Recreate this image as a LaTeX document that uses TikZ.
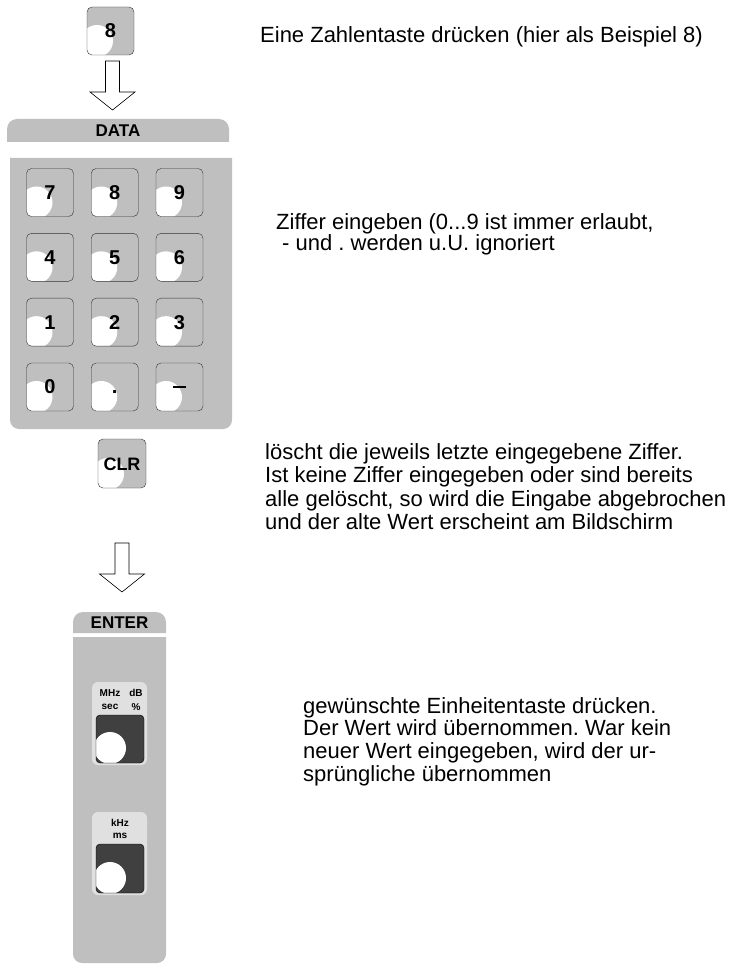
\documentclass[tikz,border=0pt]{standalone}
\usepackage{fontspec}
\setmainfont{Liberation Sans}
\frenchspacing
\usetikzlibrary{calc}
\definecolor{panelgray}{gray}{0.75}
\definecolor{keydark}{gray}{0.25}
\definecolor{keylight}{gray}{0.88}
\tikzset{
	numkey/.style={draw=black!80, fill=panelgray, rounded corners=5pt, minimum width=47pt, minimum height=48pt, inner sep=0pt, text height=14pt, text depth=0pt, font=\bfseries\fontsize{20}{20}\selectfont,
		path picture={\fill[white] ($(path picture bounding box.south west)+(10pt,14pt)$) circle (16pt);}},
	unitkey/.style={draw=black, fill=keydark, rounded corners=4pt, minimum width=48pt, minimum height=48pt, inner sep=0pt,
		path picture={\fill[white] ($(path picture bounding box.south west)+(14pt,15pt)$) circle (16pt);}},
	unitlabel/.style={inner sep=0pt, font=\bfseries\fontsize{10}{10}\selectfont},
	paneltitle/.style={inner sep=0pt, font=\bfseries\fontsize{17}{17}\selectfont},
	note/.style={anchor=base west, align=left, inner sep=0pt, font=\fontsize{22}{23}\selectfont},
}
\newcommand\hollowarrow[1]{\draw[fill=white, line width=0.6pt] ($(#1)+(-7,0)$) -- ++(0,31) -- ++(-15.5,0) -- ++(22.5,18) -- ++(22.5,-18) -- ++(-15.5,0) -- ++(0,-31) -- cycle;}
\begin{document}
\begin{tikzpicture}[x=1pt,y=-1pt]
	\useasboundingbox (0,0) rectangle (735,965);
	\node[numkey] (key8) at (110.5,31) {8};
	\coordinate (arrowA) at (112.5,61);
	\hollowarrow{arrowA}
	\fill[panelgray] (7,142) [rounded corners=10pt] -- (7,119) -- (229,119) [sharp corners] -- (229,142) -- cycle;
	\node[paneltitle] (datahead) at (118,131) {DATA};
	\fill[panelgray] (10,158) [rounded corners=9pt] -- (10,429) -- (232,429) [sharp corners] -- (232,158) -- cycle;
	\foreach \lab [count=\i from 0] in {7,8,9,4,5,6,1,2,3,0,.,{\rule[5.9pt]{13pt}{2.2pt}}}
		\node[numkey] (k\i) at ({50+64.75*mod(\i,3)},{192.5+64.83*int(\i/3)}) {\lab};
	\node[numkey, minimum width=48pt, minimum height=49pt, font=\bfseries\fontsize{18}{18}\selectfont] (clr) at (122,463.5) {CLR};
	\coordinate (arrowB) at (122,543);
	\hollowarrow{arrowB}
	\fill[panelgray] (73,633) [rounded corners=10pt] -- (73,612) -- (166,612) [sharp corners] -- (166,633) -- cycle;
	\node[paneltitle] (enterhead) at (119.5,623) {ENTER};
	\fill[panelgray] (73,637) [rounded corners=9pt] -- (73,963) -- (166,963) [sharp corners] -- (166,637) -- cycle;
	\fill[keylight, rounded corners=6pt] (92,682) rectangle (147,765);
	\node[unitkey] (mhz) at (120,739) {};
	\node[unitlabel] (lmhz) at (110,693) {MHz};
	\node[unitlabel] (ldb) at (136,693) {dB};
	\node[unitlabel] (lsec) at (110,707) {sec};
	\node[unitlabel] (lpct) at (136,707) {\%};
	\fill[keylight, rounded corners=6pt] (92,812) rectangle (147,895);
	\node[unitkey, minimum height=49pt] (khz) at (120,868.5) {};
	\node[unitlabel] (lkhz) at (120,823) {kHz};
	\node[unitlabel] (lms) at (120,836) {ms};
	\node[note] (t8) at (260,42.3) {Eine Zahlentaste drücken (hier als Beispiel 8)};
	\node[note, font=\fontsize{22}{20.5}\selectfont] (tdata) at (276,251) {Ziffer eingeben (0...9 ist immer erlaubt,\\\hspace*{6pt}- und . werden u.U. ignoriert};
	\node[note, font=\fontsize{22}{23.5}\selectfont] (tclr) at (265,529.8) {löscht die jeweils letzte eingegebene Ziffer.\\Ist keine Ziffer eingegeben oder sind bereits\\alle gelöscht, so wird die Eingabe abgebrochen\\und der alte Wert erscheint am Bildschirm};
	\node[note, font=\fontsize{22}{22.7}\selectfont] (tenter) at (303,781.1) {gewünschte Einheitentaste drücken.\\Der Wert wird übernommen. War kein\\neuer Wert eingegeben, wird der ur-\\sprüngliche übernommen};
\end{tikzpicture}
\end{document}
